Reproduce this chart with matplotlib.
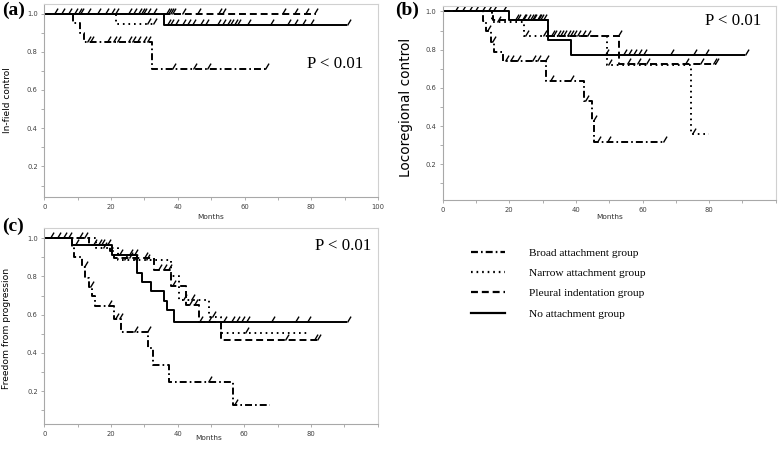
import numpy as np
import matplotlib
matplotlib.use("Agg")
import matplotlib.pyplot as plt
from matplotlib.path import Path
from matplotlib.lines import Line2D
from matplotlib.ticker import MultipleLocator

plt.rcParams['lines.scale_dashes'] = False

groups = ['Broad attachment group', 'Narrow attachment group',
          'Pleural indentation group', 'No attachment group']

# ---- (a) In-field control
a_broad_t = [8.5, 10.6, 12.0, 32.2]
a_broad_s = [0.95, 0.90, 0.85, 0.708]
a_broad_end = 66.8
a_broad_cens = [12.7, 13.7, 18.7, 20.7, 21.7, 25.2, 26.2, 27.7, 29.7, 30.7, 38.2, 44.7, 48.7, 66.2]

a_narrow_t = [21.5]
a_narrow_s = [0.944]
a_narrow_end = 33.6
a_narrow_cens = [30.7, 32.7]

a_pleural_t = []
a_pleural_s = []
a_pleural_end = 81.5
a_pleural_cens = [10.0, 20.0, 29.0, 36.4, 37.0, 37.7, 38.4, 41.2, 45.7, 52.2, 53.2,
                  71.2, 74.7, 78.2, 80.7]

a_none_t = [35.8]
a_none_s = [0.94]
a_none_end = 90.7
a_none_cens = [3.0, 5.0, 7.2, 8.9, 10.7, 12.9, 15.7, 18.2, 21.2, 25.0, 26.5, 28.0, 29.5,
               30.7, 32.7, 36.7, 37.7, 39.2, 41.2, 42.7, 44.2, 46.7, 48.2, 51.7, 53.2,
               54.7, 55.7, 56.7, 57.7, 60.7, 67.7, 72.7, 74.7, 77.2, 79.7, 90.7]

# ---- (b) Locoregional control
b_broad_t = [12.2, 13.0, 14.5, 15.5, 18.2, 31.0, 42.5, 44.8, 45.5]
b_broad_s = [0.95, 0.90, 0.84, 0.786, 0.738, 0.636, 0.53, 0.425, 0.318]
b_broad_end = 66.8
b_broad_cens = [13.3, 14.8, 18.7, 20.2, 22.2, 26.7, 28.2, 30.7, 32.2, 38.2, 42.7,
                45.2, 46.2, 49.2, 66.2]

b_narrow_t = [14.8, 24.5, 49.2, 74.5]
b_narrow_s = [0.945, 0.873, 0.72, 0.36]
b_narrow_end = 80.0
b_narrow_cens = [16.2, 24.7, 30.2, 49.7, 74.8]

b_pleural_t = [15.2, 31.5, 52.9]
b_pleural_s = [0.955, 0.872, 0.725]
b_pleural_end = 82.0
b_pleural_cens = [21.7, 23.7, 25.2, 26.2, 27.2, 28.2, 29.2, 32.4, 33.2, 34.2, 35.2,
                  36.2, 37.2, 38.2, 39.2, 40.2, 41.7, 43.2, 52.7, 55.2, 58.2, 61.2,
                  72.7, 77.2, 81.2, 81.7]

b_none_t = [20.0, 31.7, 38.5]
b_none_s = [0.953, 0.852, 0.770]
b_none_end = 90.7
b_none_cens = [3.7, 5.7, 8.0, 9.7, 11.7, 13.7, 15.2, 18.2, 22.2, 24.2, 26.7, 28.7,
               30.2, 48.7, 54.2, 55.7, 57.2, 58.7, 60.2, 68.2, 75.2, 78.7, 90.7]

# ---- (c) Freedom from progression
c_broad_t = [8.2, 9.0, 11.3, 12.3, 13.3, 14.3, 15.3, 20.8, 22.9, 31.2, 32.6, 37.5, 56.5]
c_broad_s = [0.956, 0.90, 0.85, 0.79, 0.747, 0.70, 0.646, 0.58, 0.512, 0.425,
             0.338, 0.25, 0.128]
c_broad_end = 67.6
c_broad_cens = [12.0, 13.8, 19.2, 21.2, 22.5, 26.9, 30.8, 49.0, 57.0]

c_narrow_t = [15.5, 22.0, 37.9, 40.5, 49.5, 53.0]
c_narrow_s = [0.947, 0.884, 0.80, 0.677, 0.59, 0.505]
c_narrow_end = 79.2
c_narrow_cens = [17.5, 24.0, 27.0, 30.5, 41.5, 44.0, 50.2, 60.1]

c_pleural_t = [13.3, 19.8, 21.0, 32.9, 37.9, 42.5, 46.5, 53.0]
c_pleural_s = [0.966, 0.932, 0.897, 0.836, 0.75, 0.65, 0.56, 0.467]
c_pleural_end = 81.7
c_pleural_cens = [10.5, 11.8, 17.0, 25.5, 30.0, 34.0, 35.5, 37.0, 38.2, 43.5, 45.0,
                  72.2, 80.8, 81.7]

c_none_t = [8.3, 20.2, 27.9, 29.4, 31.9, 35.9, 36.9, 38.9]
c_none_s = [0.963, 0.914, 0.818, 0.773, 0.725, 0.672, 0.625, 0.561]
c_none_end = 90.8
c_none_cens = [1.7, 3.7, 5.7, 7.2, 9.3, 14.5, 16.0, 18.8, 22.3, 25.4, 26.9, 46.5,
               49.0, 53.6, 56.1, 57.6, 59.1, 60.6, 68.1, 75.2, 78.7, 90.8]

styles = ['-.', ':', '--', '-']
dashes = {'-.': (0, (5, 2.2, 1.2, 2.2)), ':': (0, (1.2, 2.8)),
          '--': (0, (5, 2.8)), '-': '-'}

tick_mark = Path([(0, 0), (0.6, 1)], [Path.MOVETO, Path.LINETO])


def draw_km(ax, times, levels, end, cens, style):
    t = np.asarray(times, float)
    s = np.asarray(levels, float)
    last = s[-1] if len(s) else 1.0
    x = np.r_[0, t, end]
    y = np.r_[1.0, s, last]
    ax.step(x, y, where='post', color='black', lw=1.4, ls=dashes[style],
            solid_capstyle='butt', dash_capstyle='butt')
    c = np.asarray(cens, float)
    idx = np.searchsorted(t, c, side='right')
    cy = np.r_[1.0, s][idx]
    ax.plot(c, cy, ls='none', marker=tick_mark, ms=8.5, mew=1.0,
            mec='black', mfc='none')


def style_axes(ax, xmax_tick, ylo, yhi, xhi):
    ax.set_xlim(0, xhi)
    ax.set_ylim(ylo, yhi)
    ax.set_xticks(np.arange(0, xmax_tick + 1, 20))
    ax.set_yticks([0.2, 0.4, 0.6, 0.8, 1.0])
    ax.set_yticklabels(['0.2', '0.4', '0.6', '0.8', '1.0'])
    ax.xaxis.set_minor_locator(MultipleLocator(10))
    ax.yaxis.set_minor_locator(MultipleLocator(0.1))
    ax.tick_params(which='both', direction='out', length=2.2, width=0.6,
                   color='#a0a0a0', labelsize=4.9, labelcolor='#404040', pad=2.5)
    for side in ['left', 'bottom']:
        ax.spines[side].set_color('#a8a8a8')
        ax.spines[side].set_linewidth(0.8)
    for side in ['top', 'right']:
        ax.spines[side].set_color('#d0d0d0')
        ax.spines[side].set_linewidth(0.8)


W, H = 778, 449
fig = plt.figure(figsize=(W / 100, H / 100), dpi=100)


def px_axes(left, top, right, bottom):
    return fig.add_axes([left / W, 1 - bottom / H, (right - left) / W, (bottom - top) / H])


ax_a = px_axes(44.3, 4, 378, 197)
ax_b = px_axes(442.7, 5.7, 775.7, 200)
ax_c = px_axes(44.3, 228.3, 377.7, 424.3)

panels = [
    (ax_a, [(a_broad_t, a_broad_s, a_broad_end, a_broad_cens),
            (a_narrow_t, a_narrow_s, a_narrow_end, a_narrow_cens),
            (a_pleural_t, a_pleural_s, a_pleural_end, a_pleural_cens),
            (a_none_t, a_none_s, a_none_end, a_none_cens)]),
    (ax_b, [(b_broad_t, b_broad_s, b_broad_end, b_broad_cens),
            (b_narrow_t, b_narrow_s, b_narrow_end, b_narrow_cens),
            (b_pleural_t, b_pleural_s, b_pleural_end, b_pleural_cens),
            (b_none_t, b_none_s, b_none_end, b_none_cens)]),
    (ax_c, [(c_broad_t, c_broad_s, c_broad_end, c_broad_cens),
            (c_narrow_t, c_narrow_s, c_narrow_end, c_narrow_cens),
            (c_pleural_t, c_pleural_s, c_pleural_end, c_pleural_cens),
            (c_none_t, c_none_s, c_none_end, c_none_cens)]),
]

for ax, curves in panels:
    for (t, s, e, cn), st in zip(curves, styles):
        draw_km(ax, t, s, e, cn, st)

style_axes(ax_a, 100, 0.04, 1.05, 100)
style_axes(ax_b, 80, 0.013, 1.03, 100)
style_axes(ax_c, 80, 0.027, 1.052, 100)

serif = 'Liberation Serif'

# panel letters
fig.text(2 / W, 1 - 2 / H, '(a)', family=serif, weight='bold', fontsize=14, va='top')
fig.text(395 / W, 1 - 2 / H, '(b)', family=serif, weight='bold', fontsize=14, va='top')
fig.text(2 / W, 1 - 218 / H, '(c)', family=serif, weight='bold', fontsize=14, va='top')

# p-values
fig.text(307 / W, 1 - 68 / H, 'P < 0.01', family=serif, fontsize=12.2, va='baseline')
fig.text(705 / W, 1 - 25 / H, 'P < 0.01', family=serif, fontsize=12.2, va='baseline')
fig.text(315 / W, 1 - 250 / H, 'P < 0.01', family=serif, fontsize=12.2, va='baseline')

# axis titles
fig.text(7.5 / W, 1 - 100 / H, 'In-field control', rotation=90, fontsize=6.5,
         ha='center', va='center')
fig.text(406 / W, 1 - 107 / H, 'Locoregional control', rotation=90, fontsize=9.8,
         ha='center', va='center')
fig.text(6.5 / W, 1 - 328 / H, 'Freedom from progression', rotation=90, fontsize=6.6,
         ha='center', va='center')
fig.text(211 / W, 1 - 217 / H, 'Months', fontsize=5.3, ha='center', va='center', color='#303030')
fig.text(610 / W, 1 - 217 / H, 'Months', fontsize=5.3, ha='center', va='center', color='#303030')
fig.text(209 / W, 1 - 438 / H, 'Months', fontsize=5.3, ha='center', va='center', color='#303030')

# legend
handles = [Line2D([], [], color='black', lw=1.6, ls=dashes[st]) for st in styles]
fig.legend(handles, groups, loc='upper left', bbox_to_anchor=(471 / W, 1 - 248 / H),
           frameon=False, prop={'family': serif, 'size': 8.2},
           handlelength=3.0, handletextpad=2.1, labelspacing=0.9,
           borderpad=0, borderaxespad=0)

fig.savefig('out.png', dpi=100)
